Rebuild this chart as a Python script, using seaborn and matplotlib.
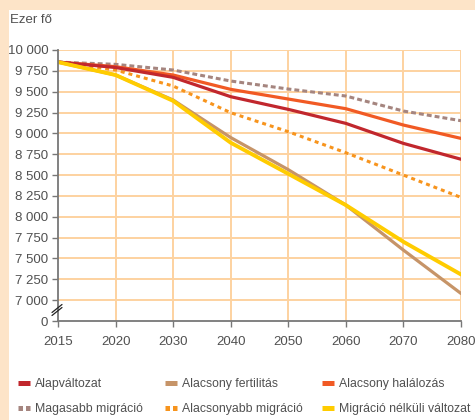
import matplotlib
matplotlib.use("Agg")
import matplotlib.pyplot as plt
from matplotlib.lines import Line2D
from matplotlib.patches import Rectangle
import numpy as np
import pandas as pd
import seaborn as sns

# Projected population of Hungary (thousand persons) by scenario
years = ["2015", "2020", "2030", "2040", "2050", "2060", "2070", "2080"]
alapvaltozat = [9855, 9790, 9672, 9440, 9288, 9120, 8880, 8690]
alacsony_fertilitas = [9855, 9700, 9400, 8950, 8565, 8140, 7600, 7080]
alacsony_halalozas = [9855, 9800, 9700, 9528, 9412, 9296, 9100, 8940]
magasabb_migracio = [9855, 9828, 9760, 9628, 9532, 9448, 9268, 9152]
alacsonyabb_migracio = [9855, 9760, 9568, 9248, 9020, 8768, 8500, 8232]
migracio_nelkuli = [9855, 9700, 9390, 8888, 8515, 8140, 7700, 7308]

y_ticks = [7000, 7250, 7500, 7750, 8000, 8250, 8500, 8750, 9000, 9250, 9500, 9750, 10000]

PEACH = "#fde4c8"
GRID = "#fdd2a0"
AXIS = "#777777"
TEXT = "#505050"
FS = 9.5
LEG_FS = 8.8

sns.set_theme(style="white")
plt.rcParams["font.family"] = ["Liberation Sans", "DejaVu Sans"]

series = [
    ("Magasabb migráció", magasabb_migracio, "#a5857f", (1.6, 1.0), 2.2, 2),
    ("Alacsonyabb migráció", alacsonyabb_migracio, "#f7941d", (1.3, 1.3), 2.2, 3),
    ("Alacsony halálozás", alacsony_halalozas, "#f15a24", None, 2.3, 4),
    ("Alapváltozat", alapvaltozat, "#c1272d", None, 2.3, 5),
    ("Alacsony fertilitás", alacsony_fertilitas, "#c69468", None, 2.3, 6),
    ("Migráció nélküli változat", migracio_nelkuli, "#ffcc00", None, 2.8, 7),
]

frames = []
for name, vals, *_ in series:
    frames.append(pd.DataFrame({"pos": np.arange(len(years)), "year": years,
                                "value": vals, "scenario": name}))
df = pd.concat(frames, ignore_index=True)

fig = plt.figure(figsize=(4.75, 4.2), dpi=100)
fig.patch.set_facecolor(PEACH)
fig.patches.append(Rectangle((9 / 475, 0), 1 - 9 / 475, 1 - 10 / 420,
                             transform=fig.transFigure, facecolor="white",
                             edgecolor="none", zorder=-10))

ax = fig.add_axes([58 / 475, 1 - 321 / 420, 403 / 475, 271 / 420])
ax.set_facecolor("none")

for name, vals, color, dashes, lw, z in series:
    sub = df[df["scenario"] == name]
    sns.lineplot(data=sub, x="pos", y="value", ax=ax, color=color, lw=lw,
                 zorder=z, legend=False)
    line = ax.lines[-1]
    if dashes is not None:
        line.set_dashes(dashes)
        line.set_dash_capstyle("butt")

ax.set_xlim(0, len(years) - 1)
ax.set_ylim(6750, 10000)

# horizontal and vertical grid
for v in y_ticks:
    ax.axhline(v, color=GRID, lw=1.4, zorder=1)
for p in range(1, len(years)):
    ax.axvline(p, color=GRID, lw=1.4, zorder=1)

ax.set_xticks(range(len(years)))
ax.set_xticklabels(years)
ax.set_yticks([6750] + y_ticks)
ax.set_yticklabels(["0"] + [f"{v:,}".replace(",", " ") for v in y_ticks])
ax.set_xlabel("")
ax.set_ylabel("")

for s in ("top", "right"):
    ax.spines[s].set_visible(False)
for s in ("left", "bottom"):
    ax.spines[s].set_color(AXIS)
    ax.spines[s].set_linewidth(1.3)
    ax.spines[s].set_zorder(8)

ax.tick_params(axis="y", which="both", left=True, length=4, width=1.0,
               color=AXIS, pad=3, labelsize=FS, labelcolor=TEXT)
ax.tick_params(axis="x", which="both", bottom=True, length=4, width=1.0,
               color=AXIS, pad=7, labelsize=FS, labelcolor=TEXT)

# axis break marks between 0 and 7 000
trans = ax.transAxes
h = ax.get_position().height * 420
for dy in (-1.5, 1.5):
    y0 = (321 - 310 + dy) / h
    ax.add_line(Line2D([-6 / 403, 4 / 403], [y0 - 4 / h, y0 + 4 / h],
                       transform=trans, color="#222222", lw=0.9,
                       clip_on=False, zorder=9))

fig.text(10 / 475, 1 - 20 / 420, "Ezer fő", ha="left", va="center",
         fontsize=FS, color=TEXT)

# legend: three columns of two entries each
columns = [("Alapváltozat", "Magasabb migráció"),
           ("Alacsony fertilitás", "Alacsonyabb migráció"),
           ("Alacsony halálozás", "Migráció nélküli változat")]
col_x = [18, 165, 322]
style = {name: (color, dashes) for name, _, color, dashes, _, _ in series}
for names, x0 in zip(columns, col_x):
    handles = []
    for name in names:
        color, dashes = style[name]
        hl = Line2D([], [], color=color, lw=3.6, solid_capstyle="butt")
        if dashes is not None:
            hl.set_dashes((0.9, 0.6))
            hl.set_dash_capstyle("butt")
        handles.append(hl)
    leg = fig.legend(handles, list(names), loc="upper left",
                     bbox_to_anchor=(x0 / 475, 1 - 378 / 420), frameon=False,
                     fontsize=LEG_FS, handlelength=1.0, handletextpad=0.4,
                     labelspacing=1.1, borderaxespad=0, borderpad=0)
    for t in leg.get_texts():
        t.set_color(TEXT)

fig.savefig("out.png", dpi=100, facecolor=PEACH)
